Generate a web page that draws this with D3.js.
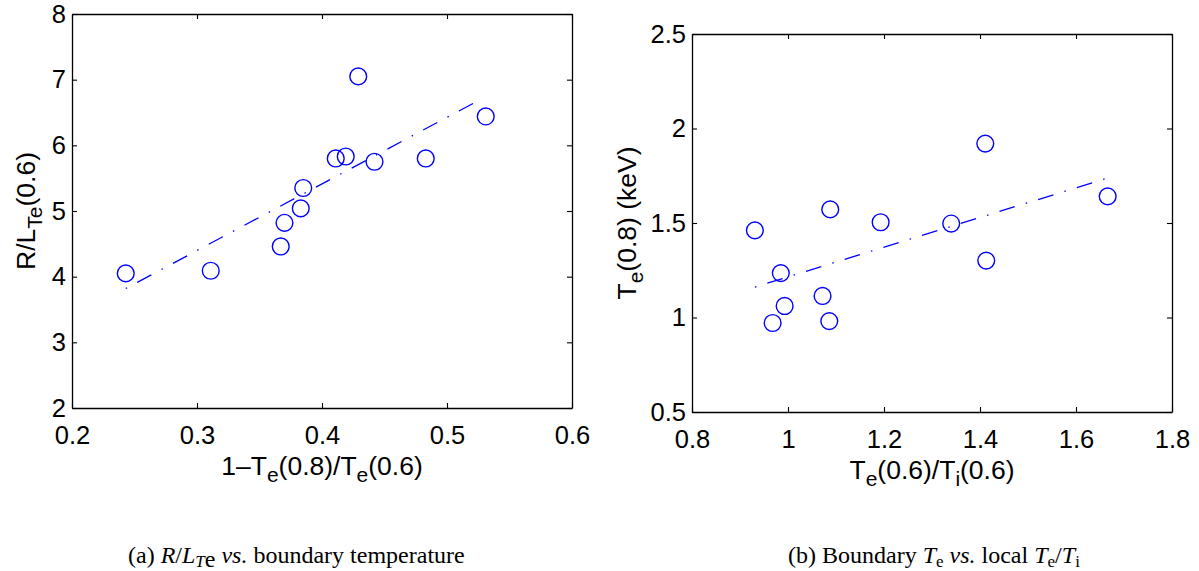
<!DOCTYPE html>
<html><head><meta charset="utf-8">
<script src="https://cdn.jsdelivr.net/npm/d3@7"></script>
<style>body{margin:0;background:#fff}svg{display:block}</style>
</head><body><svg id="c" width="1199" height="571"></svg>
<script>
// ---- Panel (a) data ----
const aX = [0.243, 0.311, 0.367, 0.370, 0.383, 0.385, 0.411, 0.419, 0.429, 0.442, 0.483, 0.531];
const aY = [4.05, 4.09, 4.46, 4.82, 5.04, 5.35, 5.80, 5.83, 7.05, 5.75, 5.80, 6.44];
const aFitX = [0.243, 0.526];
const aFitY = [3.82, 6.69];
const aXTicks = [0.2, 0.3, 0.4, 0.5, 0.6];
const aXTickLabels = ["0.2", "0.3", "0.4", "0.5", "0.6"];
const aYTicks = [2, 3, 4, 5, 6, 7, 8];
const aYTickLabels = ["2", "3", "4", "5", "6", "7", "8"];

// ---- Panel (b) data ----
const bX = [0.931, 0.985, 0.993, 0.968, 1.088, 1.072, 1.086, 1.193, 1.340, 1.411, 1.413, 1.666];
const bY = [1.461, 1.235, 1.061, 0.971, 1.572, 1.114, 0.981, 1.504, 1.497, 1.920, 1.301, 1.641];
const bFitX = [0.931, 1.666];
const bFitY = [1.161, 1.738];
const bXTicks = [0.8, 1.0, 1.2, 1.4, 1.6, 1.8];
const bXTickLabels = ["0.8", "1", "1.2", "1.4", "1.6", "1.8"];
const bYTicks = [0.5, 1.0, 1.5, 2.0, 2.5];
const bYTickLabels = ["0.5", "1", "1.5", "2", "2.5"];

const svg = d3.select("#c");
svg.append("rect").attr("width", 1199).attr("height", 571).attr("fill", "#fff");
const FONT = "'Liberation Sans', Arial, Helvetica, sans-serif";
const BLUE = "#0000ff";
const TICK_FS = 25.5, TITLE_FS = 26.5, SUB_FS = 21;

function panel(cfg) {
  const g = svg.append("g");
  const x = d3.scaleLinear().domain([cfg.xTicks[0], cfg.xTicks[cfg.xTicks.length - 1]]).range([cfg.left, cfg.right]);
  const y = d3.scaleLinear().domain([cfg.yTicks[0], cfg.yTicks[cfg.yTicks.length - 1]]).range([cfg.bottom, cfg.top]);

  function style(sel) {
    sel.attr("font-family", FONT).attr("font-size", TICK_FS);
    sel.select(".domain").attr("stroke", "#000").attr("stroke-width", 1.3);
    sel.selectAll(".tick line").attr("stroke", "#000").attr("stroke-width", 1.1);
    sel.selectAll(".tick text").attr("fill", "#000");
  }
  g.append("g").attr("transform", `translate(0,${cfg.bottom})`)
    .call(d3.axisBottom(x).tickValues(cfg.xTicks).tickFormat((d, i) => cfg.xLabels[i])
      .tickSizeInner(-5).tickSizeOuter(0).tickPadding(18)).call(style);
  g.append("g").attr("transform", `translate(0,${cfg.top})`)
    .call(d3.axisTop(x).tickValues(cfg.xTicks).tickFormat("")
      .tickSizeInner(-5).tickSizeOuter(0)).call(style);
  g.append("g").attr("transform", `translate(${cfg.left},0)`)
    .call(d3.axisLeft(y).tickValues(cfg.yTicks).tickFormat((d, i) => cfg.yLabels[i])
      .tickSizeInner(-5).tickSizeOuter(0).tickPadding(6)).call(style);
  g.append("g").attr("transform", `translate(${cfg.right},0)`)
    .call(d3.axisRight(y).tickValues(cfg.yTicks).tickFormat("")
      .tickSizeInner(-5).tickSizeOuter(0)).call(style);

  // fit line
  const line = d3.line().x(d => x(d[0])).y(d => y(d[1]));
  g.append("path").datum(d3.zip(cfg.fitX, cfg.fitY))
    .attr("d", line).attr("fill", "none").attr("stroke", BLUE)
    .attr("stroke-width", 1.3).attr("stroke-dasharray", "1.5,11.5,16,11.5");

  // circles
  g.selectAll("circle.pt").data(d3.zip(cfg.xs, cfg.ys)).join("circle")
    .attr("class", "pt").attr("cx", d => x(d[0])).attr("cy", d => y(d[1]))
    .attr("r", 8.4).attr("fill", "none").attr("stroke", BLUE).attr("stroke-width", 1.4);

  // x label
  const xl = g.append("text").attr("x", (cfg.left + cfg.right) / 2).attr("y", cfg.bottom + 67)
    .attr("text-anchor", "middle").attr("font-family", FONT).attr("font-size", TITLE_FS);
  cfg.xTitle(xl);
  // y label
  const yl = g.append("text").attr("transform", `translate(${cfg.yTitleX},${(cfg.top + cfg.bottom) / 2}) rotate(-90)`)
    .attr("text-anchor", "middle").attr("font-family", FONT).attr("font-size", TITLE_FS);
  cfg.yTitle(yl);
}

function sub(t, s) {
  t.append("tspan").attr("dy", 7).attr("font-size", SUB_FS).text(s);
}
function back(t, s) {
  t.append("tspan").attr("dy", -7).text(s);
}

panel({
  left: 72, right: 572, top: 14, bottom: 408,
  xs: aX, ys: aY, fitX: aFitX, fitY: aFitY,
  xTicks: aXTicks, xLabels: aXTickLabels, yTicks: aYTicks, yLabels: aYTickLabels,
  yTitleX: 35,
  xTitle: t => { t.append("tspan").text("1–T"); sub(t, "e"); back(t, "(0.8)/T"); sub(t, "e"); back(t, "(0.6)"); },
  yTitle: t => { t.append("tspan").text("R/L"); sub(t, "Te"); back(t, "(0.6)"); }
});

panel({
  left: 692, right: 1172, top: 34, bottom: 412,
  xs: bX, ys: bY, fitX: bFitX, fitY: bFitY,
  xTicks: bXTicks, xLabels: bXTickLabels, yTicks: bYTicks, yLabels: bYTickLabels,
  yTitleX: 636,
  xTitle: t => { t.append("tspan").text("T"); sub(t, "e"); back(t, "(0.6)/T"); sub(t, "i"); back(t, "(0.6)"); },
  yTitle: t => { t.append("tspan").text("T"); sub(t, "e"); back(t, "(0.8) (keV)"); }
});

// captions
const SERIF = "'Liberation Serif', 'Times New Roman', serif";
function cap(x, parts) {
  const t = svg.append("text").attr("x", x).attr("y", 563).attr("font-family", SERIF).attr("font-size", 24).attr("fill", "#000");
  parts.forEach(p => {
    const ts = t.append("tspan").text(p.s);
    if (p.i) ts.attr("font-style", "italic");
    if (p.sub) ts.attr("dy", 4).attr("font-size", 17);
    if (p.up) ts.attr("dy", -4);
  });
}
cap(128, [
  { s: "(a) " }, { s: "R", i: 1 }, { s: "/" }, { s: "L", i: 1 }, { s: "T", i: 1, sub: 1 },
  { s: "e", sub: 0 }, { s: " ", up: 1 }, { s: "vs.", i: 1 }, { s: " boundary temperature" }
]);
cap(788, [
  { s: "(b) Boundary " }, { s: "T", i: 1 }, { s: "e", sub: 1 }, { s: " ", up: 1 }, { s: "vs.", i: 1 },
  { s: " local " }, { s: "T", i: 1 }, { s: "e", sub: 1 }, { s: "/", up: 1 }, { s: "T", i: 1 }, { s: "i", sub: 1 }
]);
</script>
</body></html>
